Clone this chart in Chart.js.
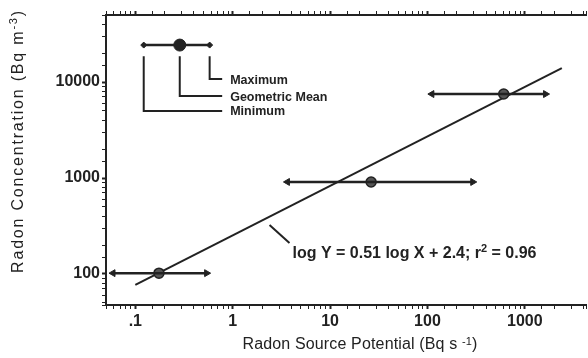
<!DOCTYPE html>
<html><head><meta charset="utf-8">
<script src="https://cdn.jsdelivr.net/npm/chart.js@4.4.1/dist/chart.umd.min.js"></script>
<style>html,body{margin:0;padding:0;background:#fff;overflow:hidden}#wrap{width:588px;height:358px;position:relative;overflow:hidden}</style>
</head><body><div id="wrap"><canvas id="c" width="593" height="358"></canvas></div>
<script>
// ---- data ----
const xTickValues = [0.1, 1, 10, 100, 1000];
const xTickLabels = ['.1', '1', '10', '100', '1000'];
const yTickValues = [100, 1000, 10000];
const yTickLabels = ['100', '1000', '10000'];

const geoMeanX = [0.175, 26.4, 607];
const minX     = [0.059, 3.65, 111];
const maxX     = [0.54, 292, 1633];
const concY    = [102, 910, 7500];

const fitX = [0.1, 2400];
const fitY = [77, 14000];

const keyX = [0.122, 0.286, 0.58];          // minimum, geometric mean, maximum
const keyY = 24300;
const keyLabels = ['Minimum', 'Geometric Mean', 'Maximum'];
const keyLabelY = [4990, 7140, 10740];
const keyStemTopY = 18600;
const keyElbowX = 0.78;

const eqPointerX = [2.39, 3.83];
const eqPointerY = [324, 210];
const eqText = ['log Y = 0.51 log X + 2.4; r', '2', ' = 0.96'];

const xTitle = ['Radon Source Potential (Bq s ', '-1', ')'];
const yTitle = ['Radon Concentration (Bq m', '-3', ')'];

// ---- chart ----
const INK = '#222';
const FONT = "'Liberation Sans', Arial, Helvetica, sans-serif";

function isDecade(v){ const l = Math.log10(v); return Math.abs(l - Math.round(l)) < 1e-6; }
function lookup(v, vals, labels){
  for (let i = 0; i < vals.length; i++) if (Math.abs(v - vals[i]) / vals[i] < 1e-6) return labels[i];
  return '';
}

const datasets = [];
for (let i = 0; i < geoMeanX.length; i++) {
  datasets.push({
    type: 'line',
    data: [{x: minX[i], y: concY[i]}, {x: maxX[i], y: concY[i]}],
    borderColor: INK, borderWidth: 2.5,
    pointStyle: 'triangle', pointRotation: [270, 90], pointRadius: 4,
    pointBackgroundColor: INK, pointBorderColor: INK, pointBorderWidth: 1
  });
}
datasets.push({
  type: 'scatter',
  data: geoMeanX.map((x, i) => ({x, y: concY[i]})),
  pointStyle: 'circle', pointRadius: 5,
  pointBackgroundColor: '#555', pointBorderColor: INK, pointBorderWidth: 1.5
});
datasets.push({
  type: 'line',
  data: fitX.map((x, i) => ({x, y: fitY[i]})),
  borderColor: INK, borderWidth: 2, pointRadius: 0
});
// key bar
datasets.push({
  type: 'line',
  data: keyX.map(x => ({x, y: keyY})),
  borderColor: INK, borderWidth: 2.5,
  pointStyle: ['rectRot', 'circle', 'rectRot'], pointRadius: [3, 6, 3],
  pointBackgroundColor: INK, pointBorderColor: INK, pointBorderWidth: 1
});
// key callouts
for (let i = 0; i < keyX.length; i++) {
  datasets.push({
    type: 'line',
    data: [{x: keyX[i], y: keyStemTopY}, {x: keyX[i], y: keyLabelY[i]}, {x: keyElbowX, y: keyLabelY[i]}],
    borderColor: INK, borderWidth: 2, pointRadius: 0
  });
}
// equation pointer
datasets.push({
  type: 'line',
  data: eqPointerX.map((x, i) => ({x, y: eqPointerY[i]})),
  borderColor: INK, borderWidth: 2, pointRadius: 0
});

function drawParts(ctx, parts, x, y, align, weight, spacing){
  let total = 0;
  const w = weight || 'normal';
  ctx.letterSpacing = spacing || '0px';
  parts.forEach(p => { ctx.font = w + ' ' + p.size + 'px ' + FONT; p.w = ctx.measureText(p.t).width; total += p.w; });
  let cx = align === 'center' ? x - total / 2 : x;
  ctx.textAlign = 'left'; ctx.textBaseline = 'middle';
  parts.forEach(p => { ctx.font = w + ' ' + p.size + 'px ' + FONT; ctx.fillText(p.t, cx, y + (p.dy || 0)); cx += p.w; });
  ctx.letterSpacing = '0px';
}

const textPlugin = {
  id: 'texts',
  afterDraw(chart){
    const ctx = chart.ctx, xs = chart.scales.x, ys = chart.scales.y;
    ctx.save();
    ctx.fillStyle = INK;
    // key labels
    ctx.font = 'bold 12.5px ' + FONT;
    ctx.textAlign = 'left'; ctx.textBaseline = 'middle';
    const kx = xs.getPixelForValue(keyElbowX) + 8;
    keyLabels.forEach((t, i) => ctx.fillText(t, kx, ys.getPixelForValue(keyLabelY[i]) + 1));
    // equation
    const ex = xs.getPixelForValue(eqPointerX[1]) + 3;
    const ey = ys.getPixelForValue(eqPointerY[1]) + 11;
    drawParts(ctx, [{t: eqText[0], size: 16}, {t: eqText[1], size: 11, dy: -5}, {t: eqText[2], size: 16}], ex, ey, 'left', 'bold');
    // x title
    drawParts(ctx, [{t: xTitle[0], size: 16}, {t: xTitle[1], size: 11, dy: -3}, {t: xTitle[2], size: 16}], 360, 345, 'center', 'normal', '0.15px');
    // y title
    ctx.translate(19, 141);
    ctx.rotate(-Math.PI / 2);
    drawParts(ctx, [{t: yTitle[0], size: 16}, {t: yTitle[1], size: 11, dy: -5}, {t: yTitle[2], size: 16}], 0, 0, 'center', 'normal', '1.8px');
    ctx.restore();
  }
};

function gridOpts(){
  return {
    drawOnChartArea: false, drawTicks: true, tickLength: 4, color: INK,
    tickWidth: c => (c.tick && isDecade(c.tick.value)) ? 2 : 1
  };
}
function fitX2(h){ return s => { s.height = h; s.paddingLeft = 0; s.paddingRight = 0; }; }

new Chart(document.getElementById('c'), {
  type: 'scatter',
  data: { datasets },
  options: {
    responsive: false, animation: false, devicePixelRatio: 1,
    layout: { padding: 0 },
    plugins: { legend: { display: false }, tooltip: { enabled: false } },
    scales: {
      x: {
        type: 'logarithmic', position: 'bottom', min: 0.05, max: 4300,
        grid: gridOpts(),
        border: { display: true, color: INK, width: 2 },
        ticks: { autoSkip: false, maxRotation: 0, color: INK, padding: 3, font: { family: FONT, size: 16, weight: 'bold' },
          callback: v => lookup(v, xTickValues, xTickLabels) },
        afterFit: fitX2(53)
      },
      x2: {
        type: 'logarithmic', position: 'top', min: 0.05, max: 4300,
        grid: gridOpts(),
        border: { display: true, color: INK, width: 2 },
        ticks: { autoSkip: false, maxRotation: 0, font: { size: 4 }, callback: () => '' },
        afterFit: fitX2(15)
      },
      y: {
        type: 'logarithmic', position: 'left', min: 47.5, max: 50000,
        grid: gridOpts(),
        border: { display: true, color: INK, width: 2 },
        ticks: { autoSkip: false, color: INK, padding: 2, font: { family: FONT, size: 16, weight: 'bold' },
          callback: v => lookup(v, yTickValues, yTickLabels) },
        afterFit: s => { s.width = 106; s.paddingTop = 0; s.paddingBottom = 0; }
      }
    }
  },
  plugins: [textPlugin]
});
</script>
</body></html>
